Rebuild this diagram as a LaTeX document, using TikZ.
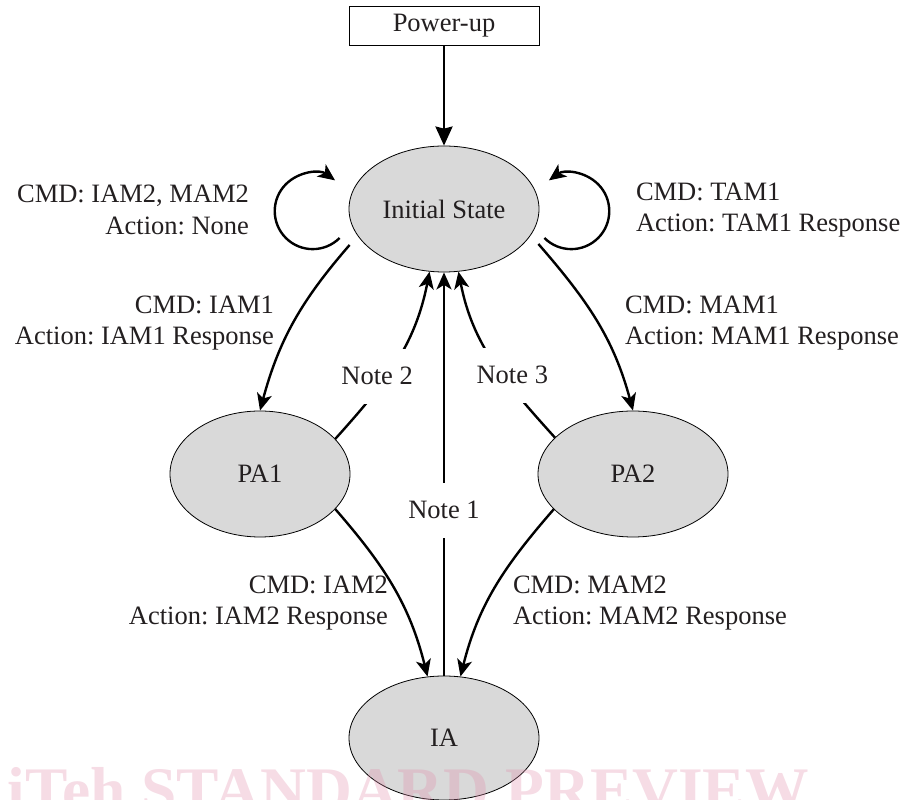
\documentclass[tikz,border=0pt]{standalone}
\usepackage{fontspec}
\setmainfont{Liberation Serif}
\usepackage{xcolor}
\usepackage{tikz}
\usetikzlibrary{shapes.geometric,arrows.meta}
\frenchspacing
\definecolor{statefill}{HTML}{D9D9D9}
\definecolor{ink}{HTML}{231F20}
\definecolor{wm}{HTML}{E08CAA}
\tikzset{
  state/.style  = {ellipse, draw=black, fill=statefill, line width=0.8pt, inner sep=0pt, minimum height=126pt, text=ink, font=\fontsize{26.5}{31.5}\selectfont},
  pbox/.style   = {draw=black, line width=0.8pt, minimum width=190pt, minimum height=39pt, inner sep=0pt, text=ink, font=\fontsize{26.5}{31.5}\selectfont},
  lab/.style    = {font=\fontsize{26.5}{31.5}\selectfont, text=ink, inner sep=0pt, outer sep=0pt},
  note/.style   = {font=\fontsize{26.5}{31.5}\selectfont, text=ink, fill=white, inner xsep=1pt, inner ysep=0pt, minimum height=55pt},
  flow/.style   = {-{Stealth[length=17pt,width=15pt,inset=4.5pt]}, draw=black, line width=2.4pt},
  flowin/.style = {-{Stealth[length=19pt,width=17pt,inset=2pt]}, draw=black, line width=2.4pt},
  stamp/.style  = {font=\fontsize{63.5}{70}\selectfont\bfseries, text=wm, text opacity=0.3, inner sep=0pt, outer sep=0pt},
}

\begin{document}
\begin{tikzpicture}[x=1pt,y=1pt]
\path[use as bounding box] (0,0) rectangle (908,800);

% ---- the states ---------------------------------------------------------
\node[pbox] (power) at (444,774) {Power-up};
\node[state, minimum width=190pt] (init) at (444,591) {Initial State};
\node[state, minimum width=180pt] (pa1)  at (260,326) {PA1};
\node[state, minimum width=190pt] (pa2)  at (633,326) {PA2};
\node[state, minimum width=190pt, minimum height=124pt] (ia) at (444,62) {IA};

% ---- power-up and the two loops -----------------------------------------
\draw[flowin] (power) -- (init);
\draw[flow] ([shift={(-9,-29)}]init.west) arc[start angle=-45, end angle=-306, radius=38];
\draw[flow] ([shift={(5,-29)}]init.east) arc[start angle=225, end angle=486, radius=38];

\node[lab, anchor=east, align=right] (cmdloopl) at (249,590) {CMD: IAM2, MAM2\\Action: None};
\node[lab, anchor=west, align=left]  (cmdloopr) at (636,590) {CMD: TAM1\\Action: TAM1 Response};

% ---- down to the partial states -----------------------------------------
\draw[flow] ([shift={(1,-36)}]init.west) to[out=229, in=75] (pa1.north);
\draw[flow] ([shift={(-1,-35)}]init.east) to[out=311, in=105] (pa2.north);

\node[lab, anchor=east, align=right] (cmdiam1) at (274,477) {CMD: IAM1\\Action: IAM1 Response};
\node[lab, anchor=west, align=left]  (cmdmam1) at (625,477) {CMD: MAM1\\Action: MAM1 Response};

\draw[flow] (pa1.335) to[out=311, in=104] (ia.105);
\draw[flow] (pa2.204) to[out=229, in=76] (ia.75);

\node[lab, anchor=east, align=right] (cmdiam2) at (388,197) {CMD: IAM2\\Action: IAM2 Response};
\node[lab, anchor=west, align=left]  (cmdmam2) at (513,197) {CMD: MAM2\\Action: MAM2 Response};

% ---- back to the initial state ------------------------------------------
\draw[flow] (pa1.25) to[out=48, in=259] node[note, pos=.42, xshift=-11, yshift=-2] {Note 2} (init.257);
\draw[flow] (pa2.155) to[out=132, in=281] node[note, pos=.42, xshift=11, yshift=-2] {Note 3} (init.283);
\draw[flow] (ia) -- node[note, pos=.41] {Note 1} (init);

% ---- preview stamp ------------------------------------------------------
\node[stamp, anchor=base west] (stamp) at (8,-12) {iTeh STANDARD PREVIEW};

\end{tikzpicture}
\end{document}
